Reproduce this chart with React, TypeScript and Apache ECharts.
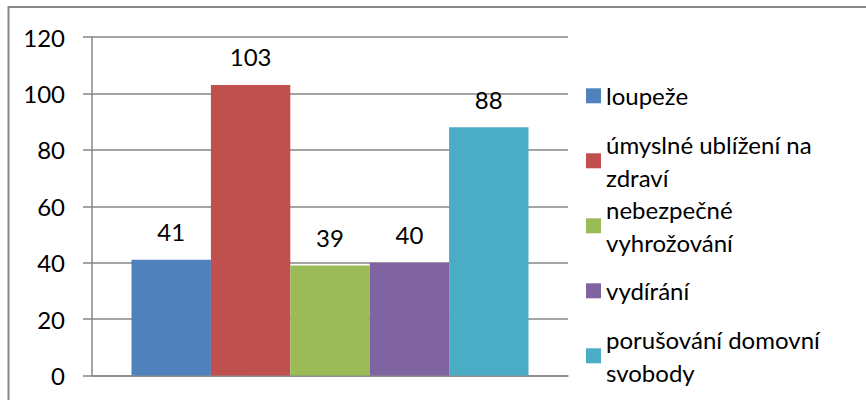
import React, { useEffect, useRef } from "react";
import * as echarts from "echarts";

const seriesNames = [
  "loupeže",
  "úmyslné ublížení na zdraví",
  "nebezpečné vyhrožování",
  "vydírání",
  "porušování domovní svobody",
];
const legendLabels = [
  "loupeže",
  "úmyslné ublížení na\nzdraví",
  "nebezpečné\nvyhrožování",
  "vydírání",
  "porušování domovní\nsvobody",
];
const values = [41, 103, 39, 40, 88];
const colors = ["#4F81BD", "#C0504D", "#9BBB59", "#8064A2", "#4BACC6"];
const categories = [""];
const legendIconCenters = [95.8, 160.8, 225.8, 290.8, 355.8];

const FONT = "Lato";

export default function App() {
  const ref = useRef<HTMLDivElement>(null);
  useEffect(() => {
    if (!ref.current) return;
    const chart = echarts.init(ref.current, undefined, { renderer: "svg" });
    const lineH = 33;
    const legends = seriesNames.map((name, i) => {
      const twoLines = legendLabels[i].includes("\n");
      const blockHalf = twoLines ? (lineH * 3) / 2 : lineH / 2;
      return {
        data: [name],
        orient: "vertical",
        left: 586,
        top: legendIconCenters[i] - blockHalf,
        padding: 0,
        icon: "rect",
        itemWidth: 15,
        itemHeight: 15,
        selectedMode: false,
        formatter: () => legendLabels[i],
        textStyle: {
          fontFamily: FONT,
          fontSize: 24,
          color: "#000",
          lineHeight: lineH,
          padding: twoLines ? [lineH, 0, 0, 0] : 0,
        },
      };
    });
    chart.setOption({
      animation: false,
      textStyle: { fontFamily: FONT },
      graphic: [
        {
          type: "rect",
          shape: { x: 8.5, y: 7, width: 900, height: 450 },
          style: { fill: "none", stroke: "#868686", lineWidth: 2 },
          silent: true,
        },
      ],
      grid: { left: 92, right: 298, top: 37, bottom: 24.5 },
      legend: legends,
      xAxis: {
        type: "category",
        data: categories,
        axisLine: { show: true, lineStyle: { color: "#868686", width: 1.5 } },
        axisTick: { show: false },
        axisLabel: { show: false },
      },
      yAxis: {
        type: "value",
        min: 0,
        max: 120,
        interval: 20,
        axisLine: { show: true, lineStyle: { color: "#868686", width: 1.5 } },
        axisTick: { show: true, length: 9, lineStyle: { color: "#868686", width: 1.5 } },
        splitLine: { show: true, lineStyle: { color: "#868686", width: 1.5 } },
        axisLabel: { margin: 27, fontFamily: FONT, fontSize: 24, color: "#000" },
      },
      series: seriesNames.map((name, i) => ({
        name,
        type: "bar",
        data: [values[i]],
        barGap: "0%",
        barCategoryGap: "16.6%",
        itemStyle: { color: colors[i] },
        label: {
          show: true,
          position: "top",
          distance: 16,
          fontFamily: FONT,
          fontSize: 24,
          color: "#000",
        },
      })),
    });
    return () => chart.dispose();
  }, []);
  return (
    <div
      ref={ref}
      style={{ position: "absolute", left: 0, top: 0, width: 866, height: 400 }}
    />
  );
}
